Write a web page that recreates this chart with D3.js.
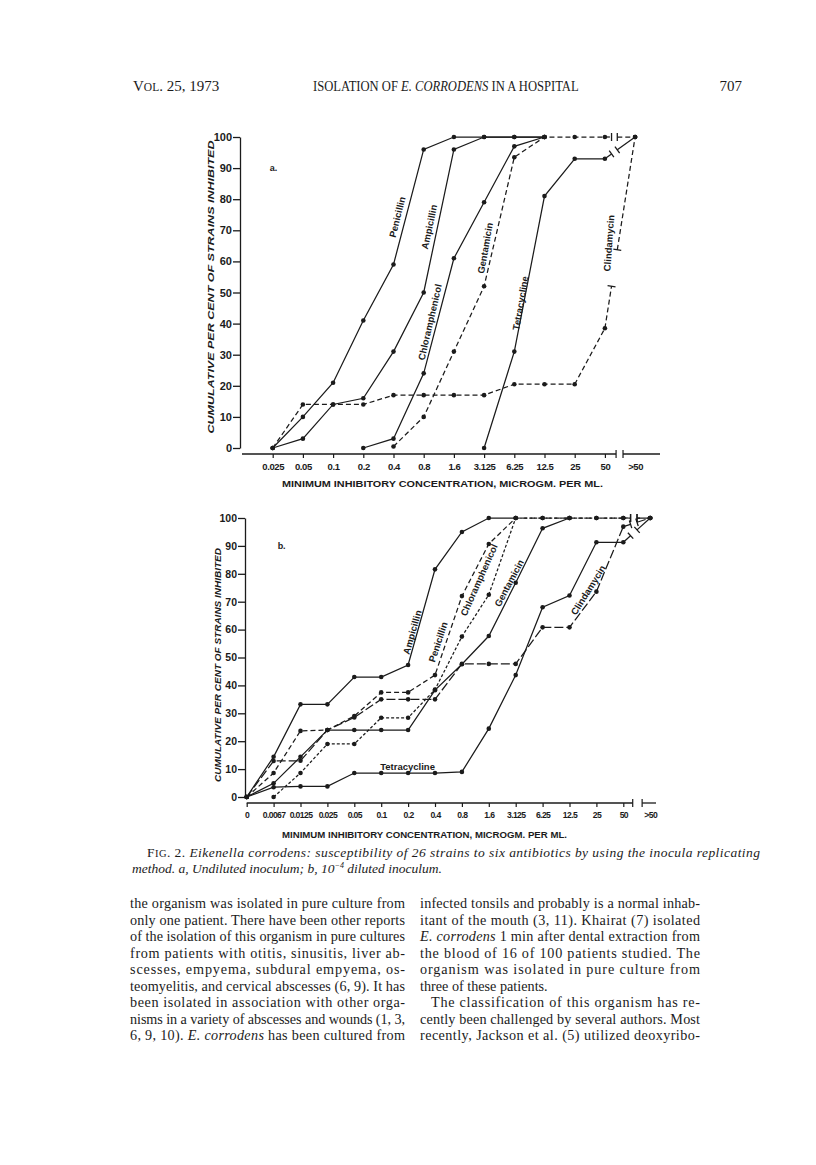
<!DOCTYPE html>
<html>
<head>
<meta charset="utf-8">
<script src="https://cdn.jsdelivr.net/npm/d3@7"></script>
<style>
  body { margin: 0; background: #fff; }
  svg text { fill: #1b1b1b; }
  .tick text { font-family: "Liberation Sans", Arial, sans-serif; font-weight: bold; }
</style>
</head>
<body>
<svg id="page" width="816" height="1165"></svg>
<script>
// ---- data ----
var concA = ["0.025","0.05","0.1","0.2","0.4","0.8","1.6","3.125","6.25","12.5","25","50",">50"];
var concB = ["0","0.0067","0.0125","0.025","0.05","0.1","0.2","0.4","0.8","1.6","3.125","6.25","12.5","25","50",">50"];
var pctTicks = [0,10,20,30,40,50,60,70,80,90,100];

// fig a, undiluted inoculum (cumulative % inhibited)
var penicillinA      = [0,10,21,41,59,96,100,100,100,100,null,null,null];
var ampicillinA      = [0,3,14,16,31,50,96,100,100,100,null,null,null];
var chloramphenicolA = [null,null,null,0,3,24,61,79,97,100,null,null,null];
var gentamicinA      = [null,null,null,null,0.5,10,31,52,93.5,100,100,100,100];
var tetracyclineA    = [null,null,null,null,null,null,null,0,31,81,93,93,100];
var clindamycinA     = [0,14,14,14,17,17,17,17,20.5,20.5,20.5,38.5,100];

// fig b, 10^-4 diluted inoculum
var ampicillinB      = [0,14.4,33.2,33.2,43,43,47.3,81.6,95,100,100,null,null,null,null,null];
var penicillinB      = [0,8.6,23.7,24,29,37.5,37.5,43.7,72,90.7,100,100,100,100,100,100];
var chloramphenicolB = [null,0,8.6,19,19,28.4,28.4,38.5,57.5,72.5,100,100,100,100,100,100];
var gentamicinB      = [0,4.9,14.4,24,24,24,24,38.3,47.6,57.7,76.8,96.3,100,null,null,null];
var tetracyclineB    = [0,3.5,3.8,3.8,8.6,8.6,8.6,8.6,9,24.5,43.7,68,72.2,91.3,91.3,100];
var clindamycinB     = [0,12.9,13,24,28.5,35,35,35,47.7,47.7,47.7,60.8,60.8,73.6,96.9,100];

var svg = d3.select("#page");
var ink = "#1b1b1b";

// ---- page header ----
svg.append("text").attr("x", 133).attr("y", 91)
  .style("font-family", "Liberation Serif, serif").style("font-size", "15px")
  .html('V<tspan style="font-size:11.5px">OL</tspan>. 25, 1973');
svg.append("g").attr("transform", "translate(313,91) scale(0.9,1)")
  .append("text").attr("x", 0).attr("y", 0)
  .style("font-family", "Liberation Serif, serif").style("font-size", "14px")
  .html('ISOLATION OF <tspan font-style="italic">E. CORRODENS</tspan> IN A HOSPITAL');
svg.append("text").attr("x", 742).attr("y", 91).attr("text-anchor", "end")
  .style("font-family", "Liberation Serif, serif").style("font-size", "15px").text("707");

// ---- chart drawer ----
function drawChart(c) {
  var g = svg.append("g");
  var n = c.cats.length;
  var x = d3.scalePoint().domain(c.cats).range([c.x0, c.x0 + c.step * (n - 1)]);
  var y = d3.scaleLinear().domain([0, 100]).range([c.y0, c.y100]);
  var xAt = function(idx) { return c.x0 + idx * x.step(); };

  // y axis
  var ya = g.append("g").attr("transform", "translate(" + c.yAxisX + ",0)")
    .call(d3.axisLeft(y).tickValues(pctTicks).tickSize(7).tickSizeOuter(0).tickPadding(1));
  ya.select(".domain").attr("stroke", ink).attr("stroke-width", 1.3);
  ya.selectAll(".tick line").attr("stroke", ink).attr("stroke-width", 1.3);
  ya.selectAll(".tick text").style("font-size", c.yFont + "px").attr("fill", ink);

  g.append("text")
    .attr("transform", "translate(" + c.yTitle[0] + "," + c.yTitle[1] + ") rotate(-90)")
    .attr("text-anchor", "middle").attr("dominant-baseline", "central")
    .attr("textLength", c.yTitle[2]).attr("lengthAdjust", "spacingAndGlyphs")
    .style("font-family", "Liberation Sans, Arial, sans-serif").style("font-weight", "bold")
    .style("font-style", "italic").style("font-size", "9.5px")
    .text("CUMULATIVE PER CENT OF STRAINS INHIBITED");

  // x axis (ticks and labels), domain drawn by hand with a break
  var xa = g.append("g").attr("transform", "translate(0," + c.axisY + ")")
    .call(d3.axisBottom(x).tickSize(4).tickSizeOuter(0).tickPadding(5));
  xa.select(".domain").remove();
  xa.selectAll(".tick line").attr("stroke", ink).attr("stroke-width", 1.2);
  xa.selectAll(".tick text").style("font-size", c.xFont + "px").style("letter-spacing", c.xSpacing + "px").attr("fill", ink);
  xa.selectAll(".tick").filter(function(d) { return d === ">50"; }).select("line").remove();

  var xb1 = xAt(n - 2 + c.axisGap[0]), xb2 = xAt(n - 2 + c.axisGap[1]);
  [[c.axisStart, xb1], [xb2, c.axisEnd]].forEach(function(s) {
    g.append("line").attr("x1", s[0]).attr("x2", s[1]).attr("y1", c.axisY).attr("y2", c.axisY)
      .attr("stroke", ink).attr("stroke-width", 1.3);
  });
  [xb1, xb2].forEach(function(xx) {
    g.append("line").attr("x1", xx).attr("x2", xx).attr("y1", c.axisY - 4).attr("y2", c.axisY + 4)
      .attr("stroke", ink).attr("stroke-width", 1.2);
  });

  g.append("text").attr("x", c.xTitle[0]).attr("y", c.xTitle[1])
    .attr("textLength", c.xTitle[2]).attr("lengthAdjust", "spacingAndGlyphs")
    .style("font-family", "Liberation Sans, Arial, sans-serif").style("font-weight", "bold")
    .style("font-size", "9px")
    .text("MINIMUM INHIBITORY CONCENTRATION, MICROGM. PER ML.");

  g.append("text").attr("x", xAt(c.tag[0])).attr("y", y(c.tag[1]))
    .style("font-family", "Liberation Sans, Arial, sans-serif").style("font-size", "9px").style("font-weight", "bold")
    .text(c.tag[2]);

  // series
  var line = d3.line().defined(function(d) { return d.v != null; })
    .x(function(d) { return x(d.c); }).y(function(d) { return y(d.v); });

  c.series.forEach(function(s) {
    var pts = s.values.map(function(v, i) { return { c: c.cats[i], i: i, v: v }; });
    var main = pts.slice(0, n - 1);
    g.append("path").attr("d", line(main)).attr("fill", "none")
      .attr("stroke", ink).attr("stroke-width", 1.25).attr("stroke-dasharray", s.dash);

    // broken segment between "50" and ">50"
    var a = pts[n - 2], b = pts[n - 1];
    if (a.v != null && b.v != null) {
      var ax = x(a.c), ay = y(a.v), bx = x(b.c), by = y(b.v);
      var lerp = function(t) { return [ax + (bx - ax) * t, ay + (by - ay) * t]; };
      var p1 = lerp(c.gap[0]), p2 = lerp(c.gap[1]);
      [[[ax, ay], p1], [p2, [bx, by]]].forEach(function(seg) {
        g.append("path").attr("d", d3.line()(seg)).attr("fill", "none")
          .attr("stroke", ink).attr("stroke-width", 1.25).attr("stroke-dasharray", s.dash);
      });
      var len = Math.hypot(bx - ax, by - ay), nx = -(by - ay) / len * 4, ny = (bx - ax) / len * 4;
      [p1, p2].forEach(function(p) {
        g.append("line").attr("x1", p[0] - nx).attr("y1", p[1] - ny).attr("x2", p[0] + nx).attr("y2", p[1] + ny)
          .attr("stroke", ink).attr("stroke-width", 1.3);
      });
    }

    g.selectAll(null).data(pts.filter(function(d) { return d.v != null; })).enter()
      .append("circle").attr("cx", function(d) { return x(d.c); }).attr("cy", function(d) { return y(d.v); })
      .attr("r", 2.3).attr("fill", ink);

    // rotated series name
    g.append("text")
      .attr("transform", "translate(" + xAt(s.label[0]) + "," + y(s.label[1]) + ") rotate(" + s.label[2] + ")")
      .attr("text-anchor", "middle").attr("dominant-baseline", "central")
      .style("font-family", "Liberation Sans, Arial, sans-serif").style("font-weight", "bold")
      .style("font-size", "9.5px")
      .text(s.name);
  });
}

drawChart({
  cats: concA, x0: 272.7, step: 30.2, y0: 448, y100: 137,
  yAxisX: 240, yFont: 11, xFont: 9.5, xSpacing: -0.4, axisY: 454, axisStart: 242, axisEnd: 660,
  axisGap: [0.37, 0.6], gap: [0.22, 0.41],
  yTitle: [210, 287, 293], xTitle: [282, 486.5, 321], tag: [-0.1, 89, "a."],
  series: [
    { name: "Penicillin", values: penicillinA, dash: null, label: [4.12, 74.3, -76] },
    { name: "Ampicillin", values: ampicillinA, dash: null, label: [5.18, 71.1, -78] },
    { name: "Chloramphenicol", values: chloramphenicolA, dash: null, label: [5.2, 40.5, -77] },
    { name: "Gentamicin", values: gentamicinA, dash: "5,3", label: [7.03, 64.3, -80] },
    { name: "Tetracycline", values: tetracyclineA, dash: null, label: [8.2, 46.6, -80] },
    { name: "Clindamycin", values: clindamycinA, dash: "5,3", label: [11.13, 65.9, -86] }
  ]
});

drawChart({
  cats: concB, x0: 246.7, step: 26.9, y0: 797, y100: 518,
  yAxisX: 245, yFont: 10.5, xFont: 8.6, xSpacing: -0.6, axisY: 803, axisStart: 246.7, axisEnd: 656,
  axisGap: [0.35, 0.7], gap: [0.27, 0.51],
  yTitle: [217, 665, 234], xTitle: [282, 837.5, 285], tag: [1.15, 89, "b."],
  series: [
    { name: "Ampicillin", values: ampicillinB, dash: null, label: [6.15, 59.1, -74] },
    { name: "Penicillin", values: penicillinB, dash: "5,3", label: [7.11, 55.6, -72] },
    { name: "Chloramphenicol", values: chloramphenicolB, dash: "3,2", label: [8.63, 77.8, -66] },
    { name: "Gentamicin", values: gentamicinB, dash: null, label: [9.75, 76.7, -62] },
    { name: "Tetracycline", values: tetracyclineB, dash: null, label: [5.98, 10.9, 0] },
    { name: "Clindamycin", values: clindamycinB, dash: "9,3", label: [12.69, 74.2, -58] }
  ]
});

// ---- caption ----
var cap = svg.append("g").style("font-family", "Liberation Serif, serif").style("font-size", "13.5px");
cap.append("text").attr("x", 147).attr("y", 857).attr("textLength", 613)
  .html('F<tspan style="font-size:10.5px">IG</tspan>. 2. <tspan font-style="italic">Eikenella corrodens: susceptibility of 26 strains to six antibiotics by using the inocula replicating</tspan>');
cap.append("text").attr("x", 132).attr("y", 873).attr("font-style", "italic")
  .html('method. a, Undiluted inoculum; b, 10<tspan dy="-5" style="font-size:8px">−4</tspan><tspan dy="5"> diluted inoculum.</tspan>');

// ---- body text ----
var leftCol = [
  "the organism was isolated in pure culture from",
  "only one patient. There have been other reports",
  "of the isolation of this organism in pure cultures",
  "from patients with otitis, sinusitis, liver ab-",
  "scesses, empyema, subdural empyema, os-",
  "teomyelitis, and cervical abscesses (6, 9). It has",
  "been isolated in association with other orga-",
  "nisms in a variety of abscesses and wounds (1, 3,",
  "6, 9, 10). <i>E. corrodens</i> has been cultured from"
];
var rightCol = [
  "infected tonsils and probably is a normal inhab-",
  "itant of the mouth (3, 11). Khairat (7) isolated",
  "<i>E. corrodens</i> 1 min after dental extraction from",
  "the blood of 16 of 100 patients studied. The",
  "organism was isolated in pure culture from",
  "three of these patients.",
  "   The classification of this organism has re-",
  "cently been challenged by several authors. Most",
  "recently, Jackson et al. (5) utilized deoxyribo-"
];
var body = svg.append("g").style("font-family", "Liberation Serif, serif").style("font-size", "14.2px");
function column(lines, x0, w) {
  lines.forEach(function(t, i) {
    var indent = t.indexOf("   ") === 0 ? 11 : 0;
    var html = t.trim().replace(/<i>/g, '<tspan font-style="italic">').replace(/<\/i>/g, "</tspan>");
    var el = body.append("text").attr("x", x0 + indent).attr("y", 908 + i * 16.5).html(html);
    if (t !== "three of these patients.") el.attr("textLength", w - indent).attr("lengthAdjust", "spacing");
  });
}
column(leftCol, 130, 275);
column(rightCol, 420, 280);
</script>
</body>
</html>
